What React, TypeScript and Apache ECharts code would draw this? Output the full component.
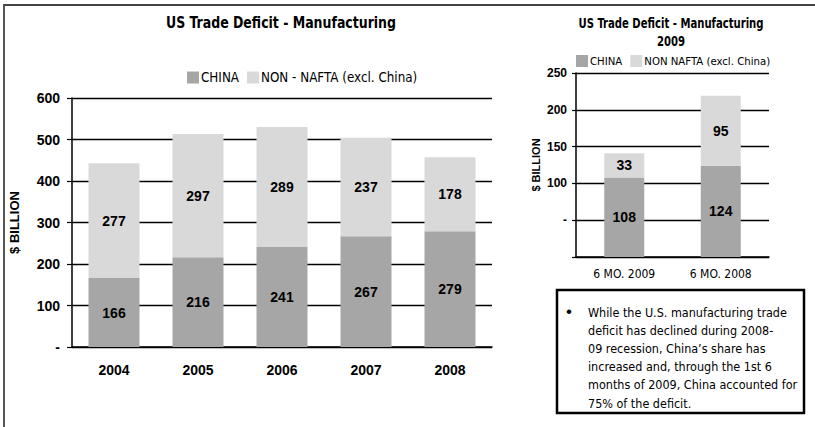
import React, { useEffect, useRef } from "react";
import * as echarts from "echarts";

const years = ["2004", "2005", "2006", "2007", "2008"];
const chinaAnnual = [166, 216, 241, 267, 279];
const nonNaftaAnnual = [277, 297, 289, 237, 178];
const periods = ["6 MO. 2009", "6 MO. 2008"];
const chinaHalf = [108, 124];
const nonNaftaHalf = [33, 95];
const mainTitle = "US Trade Deficit - Manufacturing";
const sideTitle = "US Trade Deficit - Manufacturing\n2009";
const noteLines = [
  "While the U.S. manufacturing trade",
  "deficit has declined during 2008-",
  "09 recession, China\u2019s share has",
  "increased and, through the 1st 6",
  "months of 2009, China accounted for",
  "75% of the deficit.",
];

const NARROW = "'Liberation Sans Narrow', 'DejaVu Sans Condensed', 'Arial Narrow', sans-serif";
const BOLD = "'Liberation Sans', Arial, sans-serif";
const DARK = "#a6a6a6";
const LIGHT = "#d9d9d9";

export default function App() {
  const ref = useRef<HTMLDivElement>(null);
  useEffect(() => {
    const chart = echarts.init(ref.current!, null, { renderer: "svg" });
    const dataLabel = {
      show: true,
      position: "inside",
      color: "#000",
      fontFamily: BOLD,
      fontWeight: "bold",
      fontSize: 14,
    };
    const axisLineStyle = { color: "#000", width: 1.5 };
    chart.setOption({
      animation: false,
      backgroundColor: "#fff",
      legend: [
        {
          data: ["CHINA", "NON - NAFTA (excl. China)"],
          left: 187,
          top: 71,
          padding: 0,
          itemWidth: 12,
          itemHeight: 12,
          itemGap: 8,
          icon: "rect",
          textStyle: { fontFamily: NARROW, fontSize: 13.3, color: "#000", padding: [0, 0, 0, -3] },
        },
        {
          data: ["CHINA", "NON NAFTA (excl. China)"],
          left: 576,
          top: 55,
          padding: 0,
          itemWidth: 12,
          itemHeight: 12,
          itemGap: 8,
          icon: "rect",
          textStyle: { fontFamily: NARROW, fontSize: 11.3, color: "#000", padding: [0, 0, 0, -3] },
        },
      ],
      grid: [
        { left: 71, top: 98, width: 421, height: 249 },
        { left: 576, top: 73, width: 193, height: 184 },
      ],
      xAxis: [
        {
          type: "category",
          gridIndex: 0,
          data: years,
          axisLine: { lineStyle: axisLineStyle },
          axisTick: { show: false },
          axisLabel: { color: "#000", fontFamily: BOLD, fontWeight: "bold", fontSize: 14, margin: 16 },
        },
        {
          type: "category",
          gridIndex: 1,
          data: periods,
          axisLine: { lineStyle: axisLineStyle },
          axisTick: { show: false },
          axisLabel: { color: "#000", fontFamily: NARROW, fontSize: 12, margin: 11 },
        },
      ],
      yAxis: [
        {
          type: "value",
          gridIndex: 0,
          min: 0,
          max: 600,
          interval: 100,
          name: "$ BILLION",
          nameLocation: "middle",
          nameGap: 51,
          nameTextStyle: { color: "#000", fontFamily: BOLD, fontWeight: "bold", fontSize: 13 },
          axisLine: { show: true, lineStyle: axisLineStyle },
          axisTick: { show: true, length: 5, lineStyle: { color: "#000", width: 1.2 } },
          splitLine: { lineStyle: { color: "#000", width: 1.3 } },
          axisLabel: {
            color: "#000",
            fontFamily: BOLD,
            fontWeight: "bold",
            fontSize: 14,
            margin: 12,
            formatter: (v: number) => (v === 0 ? "-" : String(v)),
          },
        },
        {
          type: "value",
          gridIndex: 1,
          min: 0,
          max: 250,
          interval: 50,
          name: "$ BILLION",
          nameLocation: "middle",
          nameGap: 35,
          nameTextStyle: { color: "#000", fontFamily: BOLD, fontWeight: "bold", fontSize: 11 },
          axisLine: { show: true, lineStyle: axisLineStyle },
          axisTick: { show: true, length: 4, lineStyle: { color: "#000", width: 1.2 } },
          splitLine: { lineStyle: { color: "#000", width: 1.3 } },
          axisLabel: {
            color: "#000",
            fontFamily: BOLD,
            fontWeight: "bold",
            fontSize: 12,
            margin: 9,
            formatter: (v: number) => (v === 0 ? "" : v === 50 ? "-" : String(v)),
          },
        },
      ],
      series: [
        {
          name: "CHINA",
          type: "bar",
          stack: "a",
          xAxisIndex: 0,
          yAxisIndex: 0,
          barWidth: 51,
          data: chinaAnnual,
          itemStyle: { color: DARK },
          label: dataLabel,
        },
        {
          name: "NON - NAFTA (excl. China)",
          type: "bar",
          stack: "a",
          xAxisIndex: 0,
          yAxisIndex: 0,
          barWidth: 51,
          data: nonNaftaAnnual,
          itemStyle: { color: LIGHT },
          label: dataLabel,
        },
        {
          name: "CHINA",
          type: "bar",
          stack: "b",
          xAxisIndex: 1,
          yAxisIndex: 1,
          barWidth: 40,
          data: chinaHalf,
          itemStyle: { color: DARK },
          label: dataLabel,
        },
        {
          name: "NON NAFTA (excl. China)",
          type: "bar",
          stack: "b",
          xAxisIndex: 1,
          yAxisIndex: 1,
          barWidth: 40,
          data: nonNaftaHalf,
          itemStyle: { color: LIGHT },
          label: dataLabel,
        },
      ],
      graphic: [
        {
          type: "line",
          shape: { x1: 3, y1: 5, x2: 815, y2: 5 },
          style: { stroke: "#444", lineWidth: 2 },
        },
        {
          type: "line",
          shape: { x1: 4, y1: 5, x2: 4, y2: 427 },
          style: { stroke: "#555", lineWidth: 2 },
        },
        {
          type: "text",
          x: 281,
          y: 23,
          scaleX: 0.87,
          style: {
            text: mainTitle,
            fontFamily: NARROW,
            fontWeight: "bold",
            fontSize: 16,
            fill: "#000",
            textAlign: "center",
            textVerticalAlign: "middle",
          },
        },
        {
          type: "text",
          x: 671,
          y: 14,
          scaleX: 0.83,
          style: {
            text: sideTitle,
            fontFamily: NARROW,
            fontWeight: "bold",
            fontSize: 13.5,
            lineHeight: 18,
            fill: "#000",
            textAlign: "center",
          },
        },
        {
          type: "rect",
          shape: { x: 557, y: 290, width: 247, height: 123 },
          style: { fill: "#fff", stroke: "#000", lineWidth: 2.5 },
        },
        {
          type: "text",
          x: 566,
          y: 303,
          style: { text: "\u2022", fontFamily: BOLD, fontSize: 17, fill: "#000" },
        },
        {
          type: "text",
          x: 588,
          y: 303,
          scaleX: 0.96,
          style: {
            text: noteLines.join("\n"),
            fontFamily: NARROW,
            fontSize: 13,
            lineHeight: 18.2,
            fill: "#000",
          },
        },
      ],
    });
    return () => chart.dispose();
  }, []);
  return (
    <div
      ref={ref}
      style={{ position: "absolute", left: 0, top: 0, width: 815, height: 427 }}
    />
  );
}
